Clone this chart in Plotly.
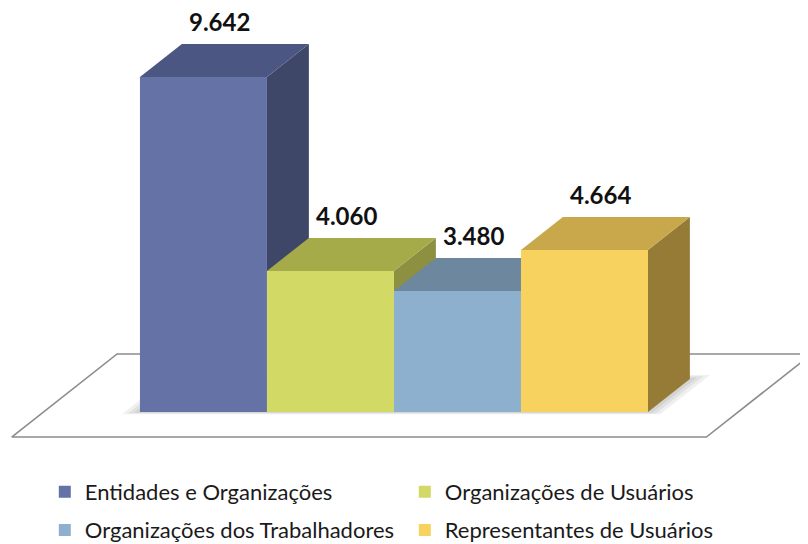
import plotly.graph_objects as go

# ---- data ----
categories = ["Entidades e Organizações", "Organizações de Usuários",
              "Organizações dos Trabalhadores", "Representantes de Usuários"]
values = [9642, 4060, 3480, 4664]
value_labels = ["9.642", "4.060", "3.480", "4.664"]

# ---- style ----
front_colors = ["#6572a6", "#d2d965", "#8db0ce", "#f8d25f"]
top_colors = ["#4c5682", "#a6ab4a", "#6d879f", "#c8a84a"]
side_colors = ["#3f4769", "#8c9040", "#5b7390", "#957b35"]
DDX, DDY = 0.33, 950.0          # depth projection per unit of depth
BAR_W = 1.0

fig = go.Figure()

# soft shadow on the floor (a few translucent layers)
n = len(values)
for k, grow in enumerate([0.12, 0.08, 0.04]):
    gx0, gx1 = -0.5 - grow, n - 0.5 + grow
    d0, d1 = -grow * 0.6, 1 + grow
    fig.add_trace(go.Scatter(
        x=[gx0 + d0 * DDX, gx1 + d0 * DDX, gx1 + d1 * DDX, gx0 + d1 * DDX, gx0 + d0 * DDX],
        y=[d0 * DDY, d0 * DDY, d1 * DDY, d1 * DDY, d0 * DDY],
        fill="toself", fillcolor="rgba(0,0,0,0.06)", mode="lines",
        line=dict(width=0, color="rgba(0,0,0,0)"), hoverinfo="skip",
        showlegend=False, zorder=-1))

for i, (cat, v) in enumerate(zip(categories, values)):
    x0, x1 = i - BAR_W / 2, i + BAR_W / 2
    # side face
    fig.add_trace(go.Scatter(
        x=[x1, x1 + DDX, x1 + DDX, x1, x1], y=[0, DDY, v + DDY, v, 0],
        fill="toself", fillcolor=side_colors[i], mode="lines",
        line=dict(width=0, color=side_colors[i]), hoverinfo="skip",
        showlegend=False, zorder=3 * i))
    # top face
    fig.add_trace(go.Scatter(
        x=[x0, x1, x1 + DDX, x0 + DDX, x0], y=[v, v, v + DDY, v + DDY, v],
        fill="toself", fillcolor=top_colors[i], mode="lines",
        line=dict(width=0, color=top_colors[i]), hoverinfo="skip",
        showlegend=False, zorder=3 * i + 1))
    # front face
    fig.add_trace(go.Bar(
        x=[i], y=[v], width=BAR_W, name=cat,
        marker=dict(color=front_colors[i], line=dict(width=0)),
        legend="legend" if i < 2 else "legend2",
        zorder=3 * i + 2))
    fig.add_annotation(
        x=i + 0.13, y=v + DDY, text=f"<b>{value_labels[i]}</b>", showarrow=False,
        yanchor="bottom", yshift=6,
        font=dict(family="Lato", size=24, color="#111111"))

# floor (parallelogram in projected depth coordinates)
FL, FR, D0, D1 = -1.26, 4.21, -0.758, 1.758
fx = [FL + D0 * DDX, FR + D0 * DDX, FR + D1 * DDX, FL + D1 * DDX, FL + D0 * DDX]
fy = [D0 * DDY, D0 * DDY, D1 * DDY, D1 * DDY, D0 * DDY]
fig.add_trace(go.Scatter(x=fx, y=fy, mode="lines", line=dict(color="#8c8c8c", width=1.6),
                         hoverinfo="skip", showlegend=False, zorder=-2))

legend_common = dict(orientation="h", xanchor="left", yanchor="middle",
                     entrywidth=315, entrywidthmode="pixels",
                     font=dict(family="Lato", size=22, color="#1a1a1a"),
                     bgcolor="rgba(0,0,0,0)")

fig.update_layout(
    width=800, height=536,
    margin=dict(l=0, r=0, t=0, b=76, autoexpand=False),
    paper_bgcolor="white", plot_bgcolor="white",
    barmode="overlay",
    xaxis=dict(range=[-1.539, 4.760], visible=False, fixedrange=True),
    yaxis=dict(range=[-1612, 11628], visible=False, fixedrange=True),
    legend=dict(x=0.046, y=-0.052, **legend_common),
    legend2=dict(x=0.046, y=-0.135, **legend_common),
    showlegend=True,
)

fig.write_html("out.html")
